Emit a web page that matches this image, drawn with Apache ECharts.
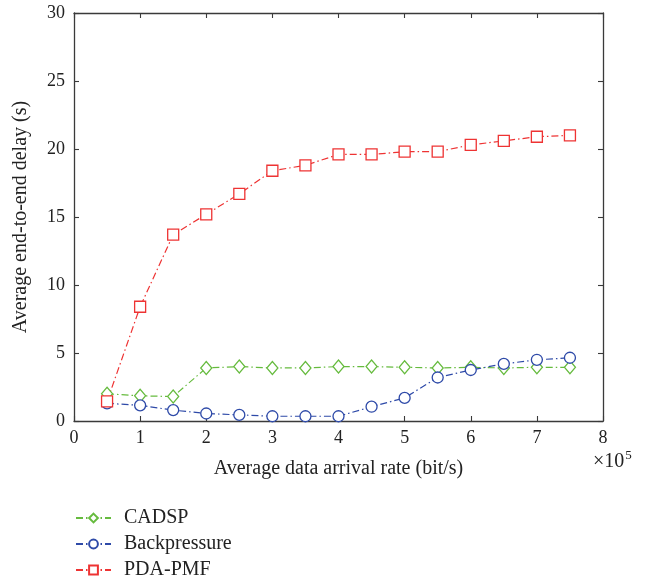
<!DOCTYPE html>
<html>
<head>
<meta charset="utf-8">
<script src="https://cdn.jsdelivr.net/npm/echarts@6/dist/echarts.min.js"></script>
<style>
  html, body { margin: 0; padding: 0; background: #fff; }
  #chart { width: 649px; height: 584px; }
</style>
</head>
<body>
<div id="chart"></div>
<script>
// Arrival rates in units of 10^5 bit/s
const arrivalRates = [0.5, 1, 1.5, 2, 2.5, 3, 3.5, 4, 4.5, 5, 5.5, 6, 6.5, 7, 7.5];

// Average end-to-end delay (s) per scheme
const cadspDelay = [2.0, 1.85, 1.8, 3.9, 4.0, 3.9, 3.9, 4.0, 4.0, 3.95, 3.9, 3.95, 3.9, 3.95, 3.95];
const backpressureDelay = [1.3, 1.15, 0.8, 0.55, 0.45, 0.35, 0.35, 0.35, 1.05, 1.7, 3.2, 3.75, 4.2, 4.5, 4.65];
const pdaPmfDelay = [1.45, 8.4, 13.7, 15.2, 16.7, 18.4, 18.8, 19.6, 19.6, 19.8, 19.8, 20.3, 20.6, 20.9, 21.0];

const xTicks = [0, 1, 2, 3, 4, 5, 6, 7, 8];
const yTicks = [0, 5, 10, 15, 20, 25, 30];

const FONT = '"Liberation Serif", "DejaVu Serif", serif';
const TEXT_COLOR = '#222';
const AXIS_COLOR = '#3a3a3a';
const DASH_DOT = [7, 3, 1.5, 3];

function pairs(ys) {
  return arrivalRates.map((x, i) => [x, ys[i]]);
}

function lineSeries(name, ys, color, symbol, size) {
  return {
    name: name,
    type: 'line',
    data: pairs(ys),
    symbol: symbol,
    symbolSize: size,
    showAllSymbol: true,
    lineStyle: { color: color, width: 1.2, type: DASH_DOT },
    itemStyle: { color: '#fff', borderColor: color, borderWidth: 1.3 },
    emphasis: { disabled: true },
    animation: false
  };
}

const chart = echarts.init(document.getElementById('chart'), null, { renderer: 'canvas' });

const baseAxis = {
  axisLine: { show: true, onZero: false, lineStyle: { color: AXIS_COLOR, width: 1.3 } },
  axisTick: { show: true, inside: true, length: 5, lineStyle: { color: AXIS_COLOR, width: 1.1 } },
  splitLine: { show: false }
};

chart.setOption({
  backgroundColor: '#fff',
  animation: false,
  grid: { left: 74, right: 46, top: 13, bottom: 163, containLabel: false },
  xAxis: [
    Object.assign({}, baseAxis, {
      type: 'value', min: xTicks[0], max: xTicks[xTicks.length - 1], interval: 1,
      position: 'bottom',
      name: 'Average data arrival rate (bit/s)',
      nameLocation: 'middle', nameGap: 38,
      nameTextStyle: { fontFamily: FONT, fontSize: 20, color: TEXT_COLOR },
      axisLabel: { fontFamily: FONT, fontSize: 18, color: TEXT_COLOR, margin: 8 }
    }),
    Object.assign({}, baseAxis, {
      type: 'value', min: xTicks[0], max: xTicks[xTicks.length - 1], interval: 1,
      position: 'top', axisLabel: { show: false }
    })
  ],
  yAxis: [
    Object.assign({}, baseAxis, {
      type: 'value', min: yTicks[0], max: yTicks[yTicks.length - 1], interval: 5,
      position: 'left',
      name: 'Average end-to-end delay (s)',
      nameLocation: 'middle', nameGap: 43, nameRotate: 90,
      nameTextStyle: { fontFamily: FONT, fontSize: 20, color: TEXT_COLOR },
      axisLabel: { fontFamily: FONT, fontSize: 18, color: TEXT_COLOR, margin: 9 }
    }),
    Object.assign({}, baseAxis, {
      type: 'value', min: yTicks[0], max: yTicks[yTicks.length - 1], interval: 5,
      position: 'right', axisLabel: { show: false }
    })
  ],
  legend: {
    orient: 'vertical',
    left: 75, top: 508, height: 76, padding: 0,
    itemWidth: 35, itemHeight: 11, itemGap: 6,
    textStyle: { fontFamily: FONT, fontSize: 20, lineHeight: 20, color: TEXT_COLOR, padding: [0, 0, 0, 8] },
    data: ['CADSP', 'Backpressure', 'PDA-PMF']
  },
  graphic: [{
    type: 'text',
    left: 593, top: 449,
    style: {
      text: '×10{sup|5}',
      fontFamily: FONT, fontSize: 20, fill: TEXT_COLOR,
      rich: { sup: { fontFamily: FONT, fontSize: 13, verticalAlign: 'top', padding: [0, 0, 12, 1] } }
    }
  }],
  series: [
    lineSeries('CADSP', cadspDelay, '#66bb3e', 'diamond', [11, 13]),
    lineSeries('Backpressure', backpressureDelay, '#2e4aa8', 'circle', 11),
    lineSeries('PDA-PMF', pdaPmfDelay, '#ee3333', 'rect', 11)
  ]
});
</script>
</body>
</html>
